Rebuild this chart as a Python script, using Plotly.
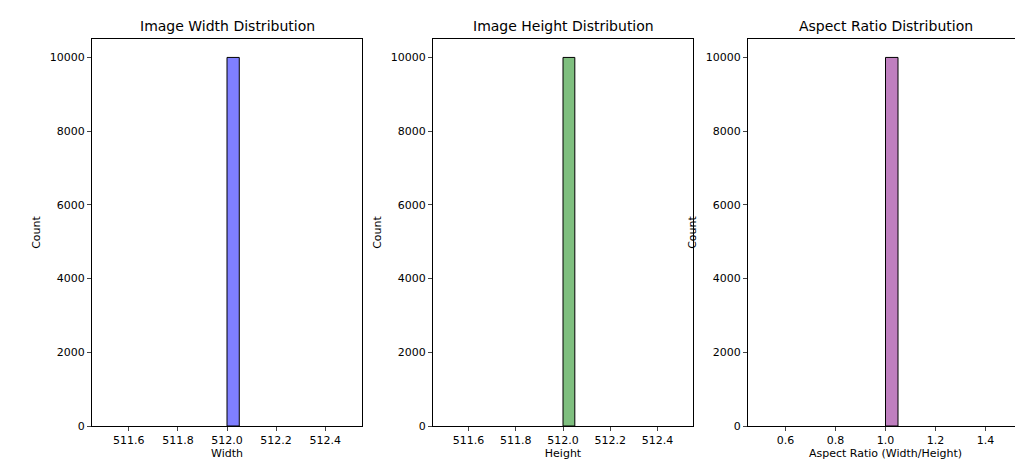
import plotly.graph_objects as go

titles = ["Image Width Distribution", "Image Height Distribution", "Aspect Ratio Distribution"]
xlabels = ["Width", "Height", "Aspect Ratio (Width/Height)"]
bin_left = [512.0, 512.0, 1.0]
bin_width = [0.05, 0.05, 0.05]
counts = [10000, 10000, 10000]
xranges = [[511.45, 512.55], [511.45, 512.55], [0.45, 1.55]]
xticks = [[511.6, 511.8, 512.0, 512.2, 512.4], [511.6, 511.8, 512.0, 512.2, 512.4], [0.6, 0.8, 1.0, 1.2, 1.4]]
colors = ["rgba(0,0,255,0.5)", "rgba(0,128,0,0.5)", "rgba(128,0,128,0.5)"]
yticks = [0, 2000, 4000, 6000, 8000, 10000]

doms = [[84/1023, 354/1023], [425/1023, 685/1023], [740/1023, 1015/1023]]
fig = go.Figure()
ann = []
for i in range(3):
    s = "" if i == 0 else str(i + 1)
    fig.add_trace(go.Bar(x=[bin_left[i] + bin_width[i] / 2], y=[counts[i]], width=[bin_width[i]],
                         marker=dict(color=colors[i], line=dict(color="black", width=1)),
                         xaxis="x" + s, yaxis="y" + s, showlegend=False))
    ax = dict(domain=doms[i], range=xranges[i], tickvals=xticks[i],
              ticktext=[f"{v:.1f}" for v in xticks[i]], showline=True, mirror=True,
              linecolor="black", ticks="outside", ticklen=4, showgrid=False, zeroline=False,
              automargin=False, tickfont=dict(size=11),
              title=dict(text=xlabels[i], standoff=2, font=dict(size=11)), anchor="y" + s)
    ay = dict(domain=[52/470, 439/470], range=[0, 10500], tickvals=yticks,
              ticktext=[str(v) for v in yticks], showline=True,
              mirror=True, linecolor="black", ticks="outside", ticklen=4, showgrid=False,
              zeroline=False, automargin=False, tickfont=dict(size=11),
              title=dict(text="Count", standoff=6, font=dict(size=11)), anchor="x" + s)
    fig.layout["xaxis" + s] = ax
    fig.layout["yaxis" + s] = ay
    ann.append(dict(text=titles[i], x=(doms[i][0] + doms[i][1]) / 2, y=439/470, xref="paper",
                    yref="paper", xanchor="center", yanchor="bottom", yshift=3,
                    showarrow=False, font=dict(size=14, color="black")))
fig.update_layout(width=1023, height=470, margin=dict(l=0, r=0, t=0, b=0),
                  plot_bgcolor="white", paper_bgcolor="white", annotations=ann,
                  font=dict(family="DejaVu Sans", size=11, color="black"))
fig.write_html("out.html")
